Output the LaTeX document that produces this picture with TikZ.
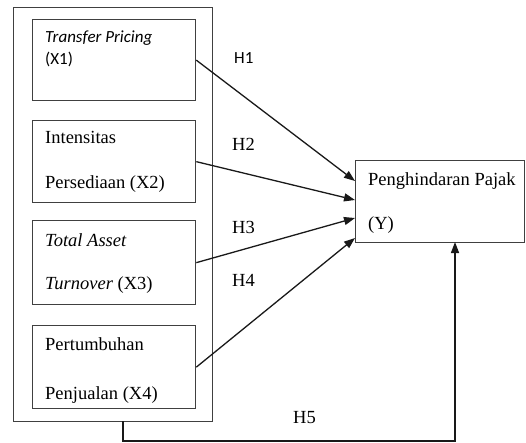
\documentclass[tikz,border=0pt]{standalone}
\usepackage{fontspec}
\setmainfont{Liberation Serif}
\newfontfamily\calfont{Carlito}
\usetikzlibrary{arrows.meta}
\begin{document}
\begin{tikzpicture}[x=1pt,y=-1pt,
  boxst/.style={draw=black!75,line width=1.3pt,rectangle,anchor=north west,inner sep=0pt},
  txt/.style={anchor=base west,inner sep=0pt,font=\fontsize{18.5}{20}\selectfont},
  ctxt/.style={anchor=base west,inner sep=0pt,font=\calfont\fontsize{17}{19}\selectfont},
  arr/.style={draw=black!90,line width=1.3pt,-{Triangle[length=11pt,width=8pt]}}]
\useasboundingbox (0,0) rectangle (526,442);
% boxes
\node[boxst,minimum width=199pt,minimum height=414pt] (outer) at (13,7) {};
\node[boxst,minimum width=163pt,minimum height=81pt] (x1) at (32,19) {};
\node[boxst,minimum width=163pt,minimum height=82pt] (x2) at (32,120) {};
\node[boxst,minimum width=163pt,minimum height=84pt] (x3) at (32,220) {};
\node[boxst,minimum width=163pt,minimum height=83pt] (x4) at (32,325) {};
\node[boxst,minimum width=169pt,minimum height=82pt] (y) at (355,160) {};
% texts
\node[ctxt] (t1a) at (45,42) {\itshape Transfer Pricing};
\node[ctxt] (t1b) at (45,64) {(X1)};
\node[txt] (t2a) at (45,143) {Intensitas};
\node[txt] (t2b) at (45,188) {Persediaan (X2)};
\node[txt] (t3a) at (45,246) {\itshape Total Asset};
\node[txt] (t3b) at (45,289) {\textit{Turnover} (X3)};
\node[txt] (t4a) at (45,350) {Pertumbuhan};
\node[txt] (t4b) at (45,399) {Penjualan (X4)};
\node[txt] (tya) at (368,185) {Penghindaran Pajak};
\node[txt] (tyb) at (368,229) {(Y)};
% labels
\node[ctxt] (h1) at (234,63) {H1};
\node[txt] (h2) at (232,150) {H2};
\node[txt] (h3) at (232,233) {H3};
\node[txt] (h4) at (232,286) {H4};
\node[txt] (h5) at (293,423) {H5};
% arrow targets
\coordinate (e1) at (355,181);
\coordinate (e2) at (355,200);
\coordinate (e3) at (355,218);
\coordinate (e4) at (355,238);
\coordinate (s5) at (123,421);
\coordinate (e5) at (455,242);
\draw[arr] (x1.east) -- (e1);
\draw[arr] (x2.east) -- (e2);
\draw[arr] (x3.east) -- (e3);
\draw[arr] (x4.east) -- (e4);
\draw[arr] (s5) -- ++(0,20) -| (e5);
\end{tikzpicture}
\end{document}
